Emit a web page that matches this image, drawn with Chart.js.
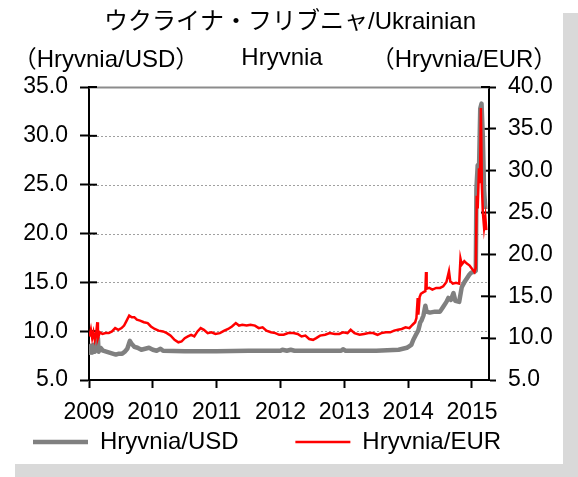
<!DOCTYPE html>
<html>
<head>
<meta charset="utf-8">
<script src="https://cdn.jsdelivr.net/npm/chart.js@4/dist/chart.umd.min.js"></script>
<style>
  html, body { margin: 0; padding: 0; background: #fff; }
  #frame {
    position: absolute; left: 0; top: 0;
    width: 563px; height: 464px;
    background: #fff;
    box-shadow: 15px 13px 0 0 #d9d9d9;
  }
  canvas { display: block; }
</style>
</head>
<body>
<div id="frame"><canvas id="chart" width="563" height="464"></canvas></div>
<script>
// titles
const titleLine1 = 'ウクライナ・フリブニャ/Ukrainian';
const titleLine2 = 'Hryvnia';
const leftUnit = '（Hryvnia/USD）';
const rightUnit = '（Hryvnia/EUR）';

// x axis (decimal years)
const yearTicks = [2009, 2010, 2011, 2012, 2013, 2014, 2015];
const xMin = 2009;
const xMax = 2015.267;

// Hryvnia/USD (left axis)
const usdDates = [
  2009.00, 2009.01, 2009.03, 2009.05, 2009.07, 2009.09, 2009.11, 2009.14, 2009.15, 2009.18,
  2009.22, 2009.27, 2009.32, 2009.37, 2009.42, 2009.47, 2009.52, 2009.56, 2009.60, 2009.64,
  2009.67, 2009.71, 2009.76, 2009.82, 2009.88, 2009.94, 2010.00, 2010.06, 2010.12, 2010.16,
  2010.50, 2011.00, 2011.50, 2012.00, 2012.03, 2012.10, 2012.16, 2012.22, 2012.50, 2012.95,
  2012.98, 2013.02, 2013.50, 2013.85, 2013.98, 2014.05, 2014.08, 2014.12, 2014.16, 2014.19,
  2014.21, 2014.24, 2014.27, 2014.29, 2014.34, 2014.42, 2014.50, 2014.55, 2014.60, 2014.63,
  2014.67, 2014.71, 2014.74, 2014.80, 2014.84, 2014.88, 2014.92, 2014.96, 2014.99, 2015.04,
  2015.06, 2015.07, 2015.09, 2015.11, 2015.13, 2015.15, 2015.17, 2015.19, 2015.21
];
const usdValues = [
  8.0, 7.8, 8.5, 7.8, 8.6, 7.9, 8.2, 9.3, 7.9, 8.3,
  8.0, 7.9, 7.8, 7.7, 7.6, 7.7, 7.7, 7.9, 8.2, 9.0,
  8.7, 8.4, 8.3, 8.1, 8.2, 8.3, 8.1, 8.0, 8.2, 8.0,
  7.95, 7.95, 8.0, 8.0, 8.1, 8.0, 8.1, 8.0, 8.0, 8.0,
  8.15, 8.0, 8.0, 8.1, 8.3, 8.6, 9.1, 9.6, 10.1, 10.9,
  11.1, 11.6, 12.6, 12.0, 11.9, 12.0, 12.0, 12.5, 13.0, 13.4,
  13.2, 13.9, 13.1, 13.0, 14.5, 15.0, 15.4, 15.8, 16.0, 16.1,
  16.2, 24.6, 27.0, 26.4, 32.8, 33.3, 30.0, 24.5, 22.5
];

// Hryvnia/EUR (right axis)
const eurDates = [
  2009.00, 2009.01, 2009.03, 2009.05, 2009.07, 2009.09, 2009.11, 2009.13, 2009.14, 2009.17,
  2009.21, 2009.26, 2009.31, 2009.36, 2009.41, 2009.46, 2009.51, 2009.55, 2009.59, 2009.63,
  2009.67, 2009.71, 2009.75, 2009.80, 2009.86, 2009.92, 2009.97, 2010.03, 2010.09, 2010.16,
  2010.22, 2010.28, 2010.34, 2010.40, 2010.45, 2010.50, 2010.55, 2010.60, 2010.65, 2010.70,
  2010.75, 2010.80, 2010.86, 2010.92, 2010.98, 2011.05, 2011.12, 2011.18, 2011.24, 2011.30,
  2011.35, 2011.40, 2011.47, 2011.53, 2011.60, 2011.66, 2011.72, 2011.78, 2011.85, 2011.92,
  2011.98, 2012.05, 2012.12, 2012.20, 2012.27, 2012.33, 2012.39, 2012.45, 2012.51, 2012.56,
  2012.62, 2012.70, 2012.77, 2012.85, 2012.92, 2012.98, 2013.05, 2013.10, 2013.16, 2013.24,
  2013.31, 2013.38, 2013.45, 2013.52, 2013.58, 2013.65, 2013.72, 2013.78, 2013.84, 2013.90,
  2013.96, 2014.02, 2014.07, 2014.11, 2014.13, 2014.15, 2014.16, 2014.18, 2014.20, 2014.24,
  2014.27, 2014.28, 2014.29, 2014.33, 2014.38, 2014.44, 2014.50, 2014.55, 2014.60, 2014.64,
  2014.66, 2014.70, 2014.75, 2014.80, 2014.82, 2014.84, 2014.88, 2014.92, 2014.96, 2015.00,
  2015.04, 2015.06, 2015.075, 2015.09, 2015.11, 2015.125, 2015.14, 2015.155, 2015.17, 2015.19,
  2015.21, 2015.225
];
const eurValues = [
  10.8, 10.2, 11.0, 10.0, 10.7, 9.8, 10.4, 11.9, 10.0, 10.7,
  10.5, 10.6, 10.6, 10.8, 11.2, 11.0, 11.2, 11.5, 12.1, 12.7,
  12.5, 12.5, 12.2, 12.1, 11.9, 11.8, 11.4, 11.1, 10.9, 10.8,
  10.6, 10.3, 9.8, 9.5, 9.6, 10.0, 10.2, 10.4, 10.2, 10.8,
  11.2, 11.0, 10.6, 10.7, 10.5, 10.6, 10.9, 11.1, 11.4, 11.8,
  11.5, 11.6, 11.5, 11.6, 11.5, 11.2, 11.3, 10.9, 10.7, 10.6,
  10.4, 10.4, 10.6, 10.6, 10.5, 10.2, 10.3, 9.9, 9.8, 10.0,
  10.3, 10.4, 10.6, 10.5, 10.5, 10.7, 10.6, 11.0, 10.6, 10.4,
  10.5, 10.6, 10.6, 10.4, 10.6, 10.7, 10.7, 10.9, 11.0, 11.1,
  11.3, 11.2, 11.6, 11.9, 12.4, 14.8, 12.8, 14.9, 15.3, 15.5,
  15.6, 17.9, 15.9, 16.0, 15.8, 16.0, 16.0, 16.2, 16.7, 18.0,
  16.8, 16.5, 16.6, 16.5, 19.5, 18.8, 19.2, 18.9, 18.7, 18.3,
  17.9, 18.4, 27.0, 25.5, 30.3, 28.5, 37.5, 28.3, 25.1, 23.2,
  24.4, 22.9
];

const usdColor = '#808080';
const eurColor = '#ff0000';
const tickFont = { family: '"Liberation Sans", Arial, sans-serif', size: 23 };
const titleFont = '24px "Liberation Sans", Arial, "Noto Sans CJK JP", sans-serif';

function toPoints(dates, values) {
  return dates.map((d, i) => ({ x: d, y: values[i] }));
}

// dotted gridlines + inner tick stubs + titles
const decorPlugin = {
  id: 'decor',
  beforeDatasetsDraw(chart) {
    const { ctx, chartArea: a, scales } = chart;
    const y = scales.y;
    ctx.save();
    y.ticks.forEach(t => {
      if (t.value === y.min) return;
      const py = Math.round(y.getPixelForValue(t.value)) + 0.5;
      ctx.beginPath();
      if (t.value === y.max) {
        ctx.setLineDash([]);
        ctx.strokeStyle = '#8c8c8c';
        ctx.lineWidth = 2;
      } else {
        ctx.setLineDash([2, 2]);
        ctx.strokeStyle = '#a0a0a0';
        ctx.lineWidth = 1;
      }
      ctx.moveTo(a.left, py);
      ctx.lineTo(a.right, py);
      ctx.stroke();
    });
    ctx.setLineDash([]);
    ctx.strokeStyle = '#000';
    ctx.lineWidth = 2;
    y.ticks.forEach(t => {
      const py = y.getPixelForValue(t.value);
      ctx.beginPath();
      ctx.moveTo(a.left, py);
      ctx.lineTo(a.left + 8, py);
      ctx.stroke();
    });
    scales.y2.ticks.forEach(t => {
      const py = scales.y2.getPixelForValue(t.value);
      ctx.beginPath();
      ctx.moveTo(a.right - 8, py);
      ctx.lineTo(a.right, py);
      ctx.stroke();
    });
    ctx.restore();
  },
  afterDraw(chart) {
    const { ctx } = chart;
    ctx.save();
    ctx.fillStyle = '#000';
    ctx.font = titleFont;
    ctx.textAlign = 'center';
    ctx.textBaseline = 'middle';
    ctx.fillText(titleLine1, 290, 22);
    ctx.fillText(titleLine2, 282, 58);
    ctx.fillText(leftUnit, 106, 60);
    ctx.fillText(rightUnit, 464, 60);
    ctx.restore();
  }
};

new Chart(document.getElementById('chart'), {
  type: 'line',
  data: {
    datasets: [
      {
        label: 'Hryvnia/USD',
        data: toPoints(usdDates, usdValues),
        yAxisID: 'y',
        borderColor: usdColor,
        backgroundColor: usdColor,
        borderWidth: 4.5,
        borderJoinStyle: 'round',
        pointRadius: 0,
        order: 1
      },
      {
        label: 'Hryvnia/EUR',
        data: toPoints(eurDates, eurValues),
        yAxisID: 'y2',
        borderColor: eurColor,
        backgroundColor: eurColor,
        borderWidth: 2.5,
        pointRadius: 0,
        order: 0
      }
    ]
  },
  options: {
    responsive: false,
    animation: false,
    events: [],
    layout: { padding: { top: 87, left: 23, right: 0, bottom: 0 } },
    scales: {
      x: {
        type: 'linear',
        min: xMin,
        max: xMax,
        afterBuildTicks: s => { s.ticks = yearTicks.map(v => ({ value: v })); },
        afterFit: s => { s.height = 40; },
        ticks: { callback: v => String(v), font: tickFont, color: '#000', padding: 11, maxRotation: 0, autoSkip: false },
        grid: { drawOnChartArea: false, tickLength: 8, tickColor: '#000', tickWidth: 2 },
        border: { color: '#000', width: 2 }
      },
      y: {
        type: 'linear',
        position: 'left',
        min: 5,
        max: 35,
        afterFit: s => { s.width = 66; },
        ticks: { stepSize: 5, callback: v => v.toFixed(1), font: tickFont, color: '#000', padding: 12 },
        grid: { drawOnChartArea: false, tickLength: 9, tickColor: '#000', tickWidth: 2 },
        border: { color: '#000', width: 2 }
      },
      y2: {
        type: 'linear',
        position: 'right',
        min: 5,
        max: 40,
        afterFit: s => { s.width = 74; },
        ticks: { stepSize: 5, callback: v => v.toFixed(1), font: tickFont, color: '#000', padding: 12 },
        grid: { drawOnChartArea: false, tickLength: 7, tickColor: '#000', tickWidth: 2 },
        border: { color: '#000', width: 2 }
      }
    },
    plugins: {
      tooltip: { enabled: false },
      legend: {
        position: 'bottom',
        align: 'start',
        labels: {
          usePointStyle: true,
          pointStyle: 'line',
          pointStyleWidth: 55,
          font: { family: '"Liberation Sans", Arial, sans-serif', size: 24 },
          color: '#000',
          padding: 10,
          sort: (a, b) => a.datasetIndex - b.datasetIndex,
          generateLabels: chart => {
            const items = Chart.defaults.plugins.legend.labels.generateLabels(chart);
            // extra room after first item, as in the original
            items.forEach(it => { if (it.datasetIndex === 0) it.text = it.text + '       '; });
            return items;
          }
        }
      }
    }
  },
  plugins: [decorPlugin]
});
</script>
</body>
</html>
